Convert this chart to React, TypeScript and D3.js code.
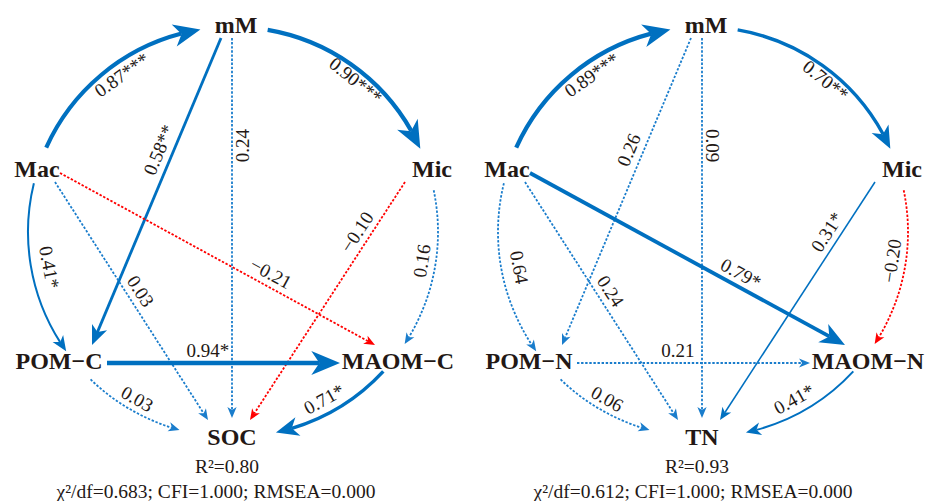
import { useEffect, useRef } from "react";
import * as d3 from "d3";

// ---- data ----
const nodeKeys = ["mM", "Mac", "Mic", "POM", "MAOM", "OUT"];
const leftNames = ["mM", "Mac", "Mic", "POM\u2212C", "MAOM\u2212C", "SOC"];
const rightNames = ["mM", "Mac", "Mic", "POM\u2212N", "MAOM\u2212N", "TN"];

const pathFrom = ["Mac", "mM", "mM", "mM", "Mac", "Mac", "Mac", "Mic", "Mic", "POM", "POM", "MAOM"];
const pathTo = ["mM", "Mic", "POM", "OUT", "MAOM", "OUT", "POM", "OUT", "MAOM", "MAOM", "OUT", "OUT"];

const leftCoef = [0.87, 0.9, 0.58, 0.24, -0.21, 0.03, 0.41, -0.1, 0.16, 0.94, 0.03, 0.71];
const leftSig = ["***", "***", "**", "", "", "", "*", "", "", "*", "", "*"];
const rightCoef = [0.89, 0.7, 0.26, 0.09, 0.79, 0.24, 0.64, 0.31, -0.2, 0.21, 0.06, 0.41];
const rightSig = ["***", "**", "", "", "*", "", "", "*", "", "", "", "*"];

const r2Values = [0.8, 0.93];
const chiDf = [0.683, 0.612];
const cfiValues = [1.0, 1.0];
const rmseaValues = [0.0, 0.0];

// ---- layout ----
const W = 926;
const H = 501;
const CX = 233, CY = 232, RAD = 205;
const nodeAt: Record<string, [number, number]> = {
  mM: [236, 25], Mac: [37, 169], Mic: [432, 169],
  POM: [59, 361], MAOM: [398, 361], OUT: [232, 437],
};
// arc?, source port, target port (offsets from node centre), label position t, label offset
const routes = [
  { arc: true, s: [8, -22], t: [-36, 2], lt: 0.537, lo: -12.5 },
  { arc: true, s: [32, 3], t: [-10, -21], lt: 0.52, lo: -10 },
  { arc: false, s: [-15, 13], t: [33, -16], lt: 0.382, lo: 14 },
  { arc: false, s: [-4, 13], t: [0, -19], lt: 0.283, lo: 10.5 },
  { arc: false, s: [23, 4], t: [-23, -16], lt: 0.65, lo: 13 },
  { arc: false, s: [18, 13], t: [-24, -17], lt: 0.488, lo: 13 },
  { arc: true, s: [-4, 14], t: [13, -14], lt: 0.5, lo: 18 },
  { arc: false, s: [-27, 13], t: [18, -17], lt: 0.24, lo: 13 },
  { arc: true, s: [3, 21], t: [5, -18], lt: 0.455, lo: 14 },
  { arc: false, s: [48, 2], t: [-58, 2], lt: 0.433, lo: 13 },
  { arc: true, s: [31, 19], t: [-52, -9], lt: 0.49, lo: 12.6 },
  { arc: true, s: [-13, 12], t: [43, -9], lt: 0.53, lo: 14.8 },
];

const panels = [
  { dx: 0, names: leftNames, coef: leftCoef, sig: leftSig, flip: [3], statsX: 216 },
  { dx: 470, names: rightNames, coef: rightCoef, sig: rightSig, flip: [] as number[], statsX: 223 },
];

const SERIF = "'Liberation Serif', 'Times New Roman', serif";
const INK = "#231815";
const BLUE = "#0070c0";
const DOT_BLUE = "#1a7dcc";
const RED = "#ff0000";

const norm = (a: number) => {
  while (a > 90) a -= 180;
  while (a <= -90) a += 180;
  return a;
};
const rad = (d: number) => (d * Math.PI) / 180;
const deg = (r: number) => (r * 180) / Math.PI;

export default function App() {
  const svgRef = useRef<SVGSVGElement>(null);

  useEffect(() => {
    const svg = d3.select(svgRef.current);
    svg.selectAll("*").remove();
    svg.append("rect").attr("width", W).attr("height", H).attr("fill", "#fff");

    const widthScale = d3.scaleLinear().domain([0.3, 0.9]).range([1.5, 4.3]);
    const color = (v: number, solid: boolean) => (v < 0 ? RED : solid ? BLUE : DOT_BLUE);

    panels.forEach((p, pi) => {
      const g = svg.append("g").attr("transform", `translate(${p.dx},0)`);
      const edgeG = g.append("g");
      const labG = g.append("g");

      pathFrom.forEach((from, i) => {
        const to = pathTo[i];
        const rt = routes[i];
        const coef = p.coef[i];
        const sig = p.sig[i];
        const solid = sig !== "";
        const w = solid ? widthScale(Math.abs(coef)) : 1.8;
        const L = solid ? 4 + 5.5 * w : 11;
        const hw = 0.42 * L;
        const col = color(coef, solid);
        const [sx0, sy0] = nodeAt[from];
        const [tx0, ty0] = nodeAt[to];
        const S = [sx0 + rt.s[0], sy0 + rt.s[1]];
        const T = [tx0 + rt.t[0], ty0 + rt.t[1]];

        let tip: number[], dir: number, labP: number[], tang: number;
        const path = d3.path();
        if (rt.arc) {
          const a0 = Math.atan2(S[1] - CY, S[0] - CX);
          let a1 = Math.atan2(T[1] - CY, T[0] - CX);
          let diff = a1 - a0;
          while (diff > Math.PI) diff -= 2 * Math.PI;
          while (diff < -Math.PI) diff += 2 * Math.PI;
          a1 = a0 + diff;
          const sg = Math.sign(diff);
          const aEnd = a1 - (sg * 0.72 * L) / RAD;
          path.moveTo(CX + RAD * Math.cos(a0), CY + RAD * Math.sin(a0));
          path.arc(CX, CY, RAD, a0, aEnd, sg < 0);
          tip = [CX + RAD * Math.cos(a1), CY + RAD * Math.sin(a1)];
          const aBack = a1 - (sg * L) / RAD;
          const back = [CX + RAD * Math.cos(aBack), CY + RAD * Math.sin(aBack)];
          dir = Math.atan2(tip[1] - back[1], tip[0] - back[0]);
          const am = a0 + rt.lt * diff;
          labP = [CX + RAD * Math.cos(am), CY + RAD * Math.sin(am)];
          tang = deg(am) + sg * 90;
        } else {
          dir = Math.atan2(T[1] - S[1], T[0] - S[0]);
          tip = T;
          path.moveTo(S[0], S[1]);
          path.lineTo(T[0] - 0.72 * L * Math.cos(dir), T[1] - 0.72 * L * Math.sin(dir));
          labP = [S[0] + rt.lt * (T[0] - S[0]), S[1] + rt.lt * (T[1] - S[1])];
          tang = deg(dir);
        }

        edgeG
          .append("path")
          .attr("d", path.toString())
          .attr("fill", "none")
          .attr("stroke", col)
          .attr("stroke-width", w)
          .attr("stroke-dasharray", solid ? null : "2.4 1.7");

        const ux = Math.cos(dir), uy = Math.sin(dir);
        const nx = -uy, ny = ux;
        const bx = tip[0] - L * ux, by = tip[1] - L * uy;
        const pts = [
          [tip[0], tip[1]],
          [bx + hw * nx, by + hw * ny],
          [tip[0] - 0.72 * L * ux, tip[1] - 0.72 * L * uy],
          [bx - hw * nx, by - hw * ny],
        ];
        edgeG
          .append("path")
          .attr("d", "M" + pts.map((q) => q.join(",")).join("L") + "Z")
          .attr("fill", col);

        const rot = norm(tang);
        const r = rad(rot);
        const lx = labP[0] + Math.sin(r) * rt.lo;
        const ly = labP[1] - Math.cos(r) * rt.lo;
        const finalRot = p.flip.includes(i) ? rot - 180 : rot;
        const txt = (coef < 0 ? "\u2212" : "") + Math.abs(coef).toFixed(2) + sig;
        labG
          .append("text")
          .attr("transform", `translate(${lx},${ly}) rotate(${finalRot})`)
          .attr("text-anchor", "middle")
          .attr("dominant-baseline", "central")
          .attr("font-family", SERIF)
          .attr("font-size", 19)
          .attr("fill", INK)
          .text(txt);
      });

      nodeKeys.forEach((k, i) => {
        const [x, y] = nodeAt[k];
        g.append("text")
          .attr("x", x)
          .attr("y", y + 8)
          .attr("text-anchor", "middle")
          .attr("font-family", SERIF)
          .attr("font-weight", "bold")
          .attr("font-size", 24)
          .attr("fill", INK)
          .text(p.names[i]);
      });

      g.append("text")
        .attr("x", 227)
        .attr("y", 473)
        .attr("text-anchor", "middle")
        .attr("font-family", SERIF)
        .attr("font-size", 19.5)
        .attr("fill", INK)
        .text(`R\u00b2=${r2Values[pi].toFixed(2)}`);

      g.append("text")
        .attr("x", p.statsX)
        .attr("y", 498)
        .attr("text-anchor", "middle")
        .attr("font-family", SERIF)
        .attr("font-size", 19.5)
        .attr("fill", INK)
        .text(
          `\u03c7\u00b2/df=${chiDf[pi].toFixed(3)}; CFI=${cfiValues[pi].toFixed(3)}; RMSEA=${rmseaValues[pi].toFixed(3)}`
        );
    });
  }, []);

  return (
    <svg
      ref={svgRef}
      width={W}
      height={H}
      style={{ position: "absolute", left: 0, top: 0, display: "block" }}
    />
  );
}
